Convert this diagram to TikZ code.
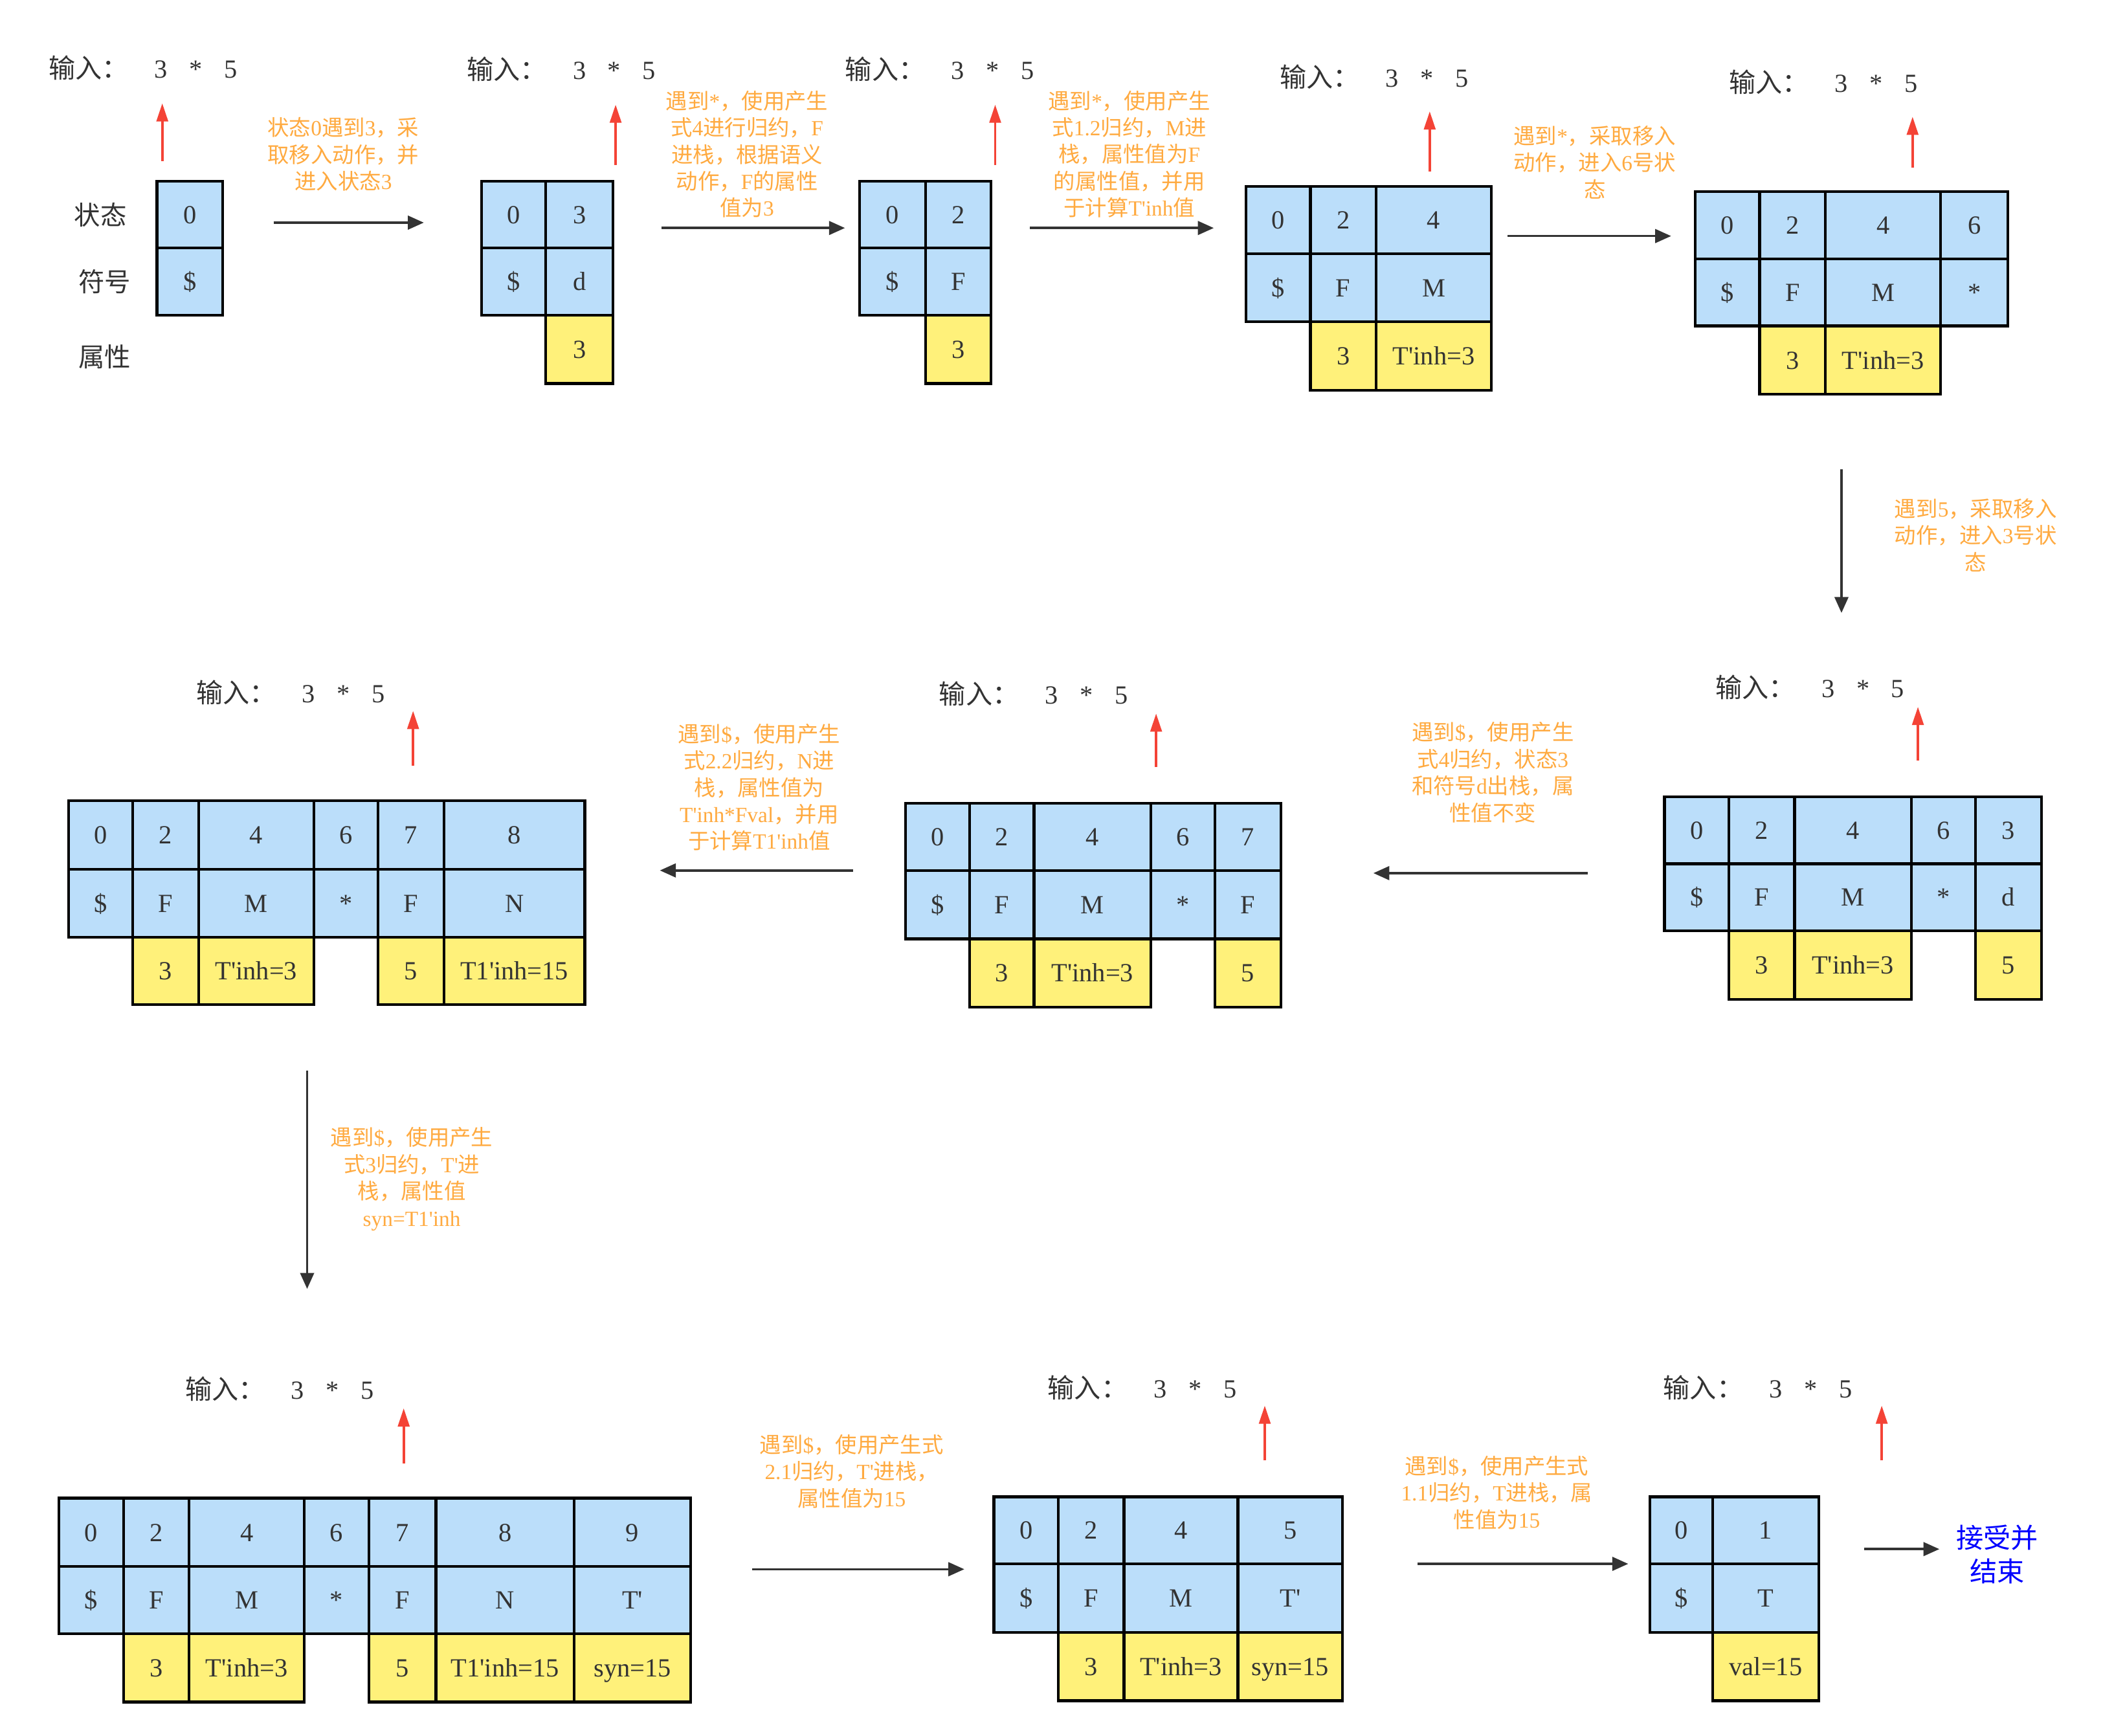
\documentclass[tikz,border=0pt]{standalone}
\usepackage{fontspec}
\setmainfont{Liberation Serif}
\newfontfamily\cjk{Noto Sans CJK SC}
\usetikzlibrary{arrows.meta}
\definecolor{cellblue}{HTML}{BBDEFA}
\definecolor{cellyellow}{HTML}{FFF17A}
\definecolor{orangetxt}{HTML}{FFAA40}
\definecolor{redarrow}{HTML}{F44336}
\definecolor{darktxt}{HTML}{333333}
\definecolor{endblue}{HTML}{0000FF}
\newcommand\zh[1]{{\cjk #1}}
\newcommand\ap{\XeTeXglyph\XeTeXcharglyph"27\relax}
\tikzset{
  cellbox/.style={draw=black, line width=1.2pt, inner sep=0pt, text=darktxt,
    text height=7.8pt, text depth=0pt, font=\fontsize{11.5}{13}\selectfont},
  bluecell/.style={cellbox, fill=cellblue},
  yelcell/.style={cellbox, fill=cellyellow},
  inlab/.style={anchor=base, inner sep=0pt, text=darktxt, font=\fontsize{11.7}{13}\cjk},
  indig/.style={anchor=base, inner sep=0pt, text=darktxt, font=\fontsize{11.5}{13}\selectfont},
  rowlab/.style={inner sep=0pt, text=darktxt, font=\fontsize{11.5}{13}\cjk},
  note/.style={align=center, inner sep=0pt, text=orangetxt, font=\fontsize{9.5}{11.8}\selectfont},
  redarr/.style={draw=redarrow, line width=1.1pt, -{Triangle[length=8pt,width=5pt]}},
  darkarr/.style={draw=darktxt, line width=1pt, -{Triangle[length=7pt,width=6pt]}},
}
\newcommand\cellrow[5]{%
  \foreach \xa/\xb/\t [count=\i] in {#5} {
    \node[#4, minimum width={(\xb-\xa)*0.2072mm}, minimum height={(#3-#2)*0.2072mm}]
      (#1-\i) at ({(\xa+\xb)/2},{(#2+#3)/2}) {\t};
  }}
\newcommand\inputrow[3]{%
  \node[inlab] (#1-l) at (#2+6,#3+7) {输入：};
  \node[indig] (#1-a) at (#2+60,#3+7) {3};
  \node[indig] (#1-s) at (#2+86,#3+7) {*};
  \node[indig] (#1-b) at (#2+112,#3+7) {5};}
\newcommand\redptr[4]{%
  \coordinate (#1-rb) at (#2,#3);
  \coordinate (#1-rt) at (#2,#4);
  \draw[redarr] (#1-rb) -- (#1-rt);}
\newcommand\darrow[5]{%
  \coordinate (#1-s) at (#2,#3);
  \coordinate (#1-e) at (#4,#5);
  \draw[darkarr] (#1-s) -- (#1-e);}
\begin{document}
\begin{tikzpicture}[x=0.2072mm,y=-0.2072mm]
\useasboundingbox[fill=white] (0,0) rectangle (1568,1294);

% ---------- Panel 1
\inputrow{p1}{60}{51}
\redptr{p1}{121}{120}{77}
\node[rowlab] (lab-state) at (75,160) {状态};
\node[rowlab] (lab-sym) at (78,210) {符号};
\node[rowlab] (lab-attr) at (78,266) {属性};
\cellrow{p1r1}{135}{185}{bluecell}{117/166/0}
\cellrow{p1r2}{185}{235}{bluecell}{117/166/\$}
\darrow{a1}{204}{166}{316}{166}
\node[note] (n1) at (256,115) {\zh{状态}0\zh{遇到}3\zh{，采}\\\zh{取移入动作，并}\\\zh{进入状态}3};

% ---------- Panel 2
\inputrow{p2}{372}{52}
\redptr{p2}{459}{123}{78}
\cellrow{p2r1}{135}{185}{bluecell}{359/407/0,407/457/3}
\cellrow{p2r2}{185}{235}{bluecell}{359/407/\$,407/457/d}
\cellrow{p2r3}{235}{286}{yelcell}{407/457/3}
\darrow{a2}{493}{170}{630}{170}
\node[note] (n2) at (557,115) {\zh{遇到}*\zh{，使用产生}\\\zh{式}4\zh{进行归约，}F\\\zh{进栈，根据语义}\\\zh{动作，}F\zh{的属性}\\\zh{值为}3};

% ---------- Panel 3
\inputrow{p3}{654}{52}
\redptr{p3}{742}{123}{78}
\cellrow{p3r1}{135}{185}{bluecell}{641/690/0,690/739/2}
\cellrow{p3r2}{185}{235}{bluecell}{641/690/\$,690/739/F}
\cellrow{p3r3}{235}{286}{yelcell}{690/739/3}
\darrow{a3}{768}{170}{905}{170}
\node[note] (n3) at (842,115) {\zh{遇到}*\zh{，使用产生}\\\zh{式}1.2\zh{归约，}M\zh{进}\\\zh{栈，属性值为}F\\\zh{的属性值，并用}\\\zh{于计算}T\ap inh\zh{值}};

% ---------- Panel 4
\inputrow{p4}{978}{58}
\redptr{p4}{1066}{128}{83}
\cellrow{p4r1}{139}{189}{bluecell}{929/977/0,977/1026/2,1026/1112/4}
\cellrow{p4r2}{189}{240}{bluecell}{929/977/\$,977/1026/F,1026/1112/M}
\cellrow{p4r3}{240}{291}{yelcell}{977/1026/3,1026/1112/T\ap inh=3}
\darrow{a4}{1124}{176}{1246}{176}
\node[note] (n4) at (1189,121) {\zh{遇到}*\zh{，采取移入}\\\zh{动作，进入}6\zh{号状}\\\zh{态}};

% ---------- Panel 5
\inputrow{p5}{1313}{62}
\redptr{p5}{1426}{125}{87}
\cellrow{p5r1}{143}{193}{bluecell}{1264/1312/0,1312/1361/2,1361/1447/4,1447/1497/6}
\cellrow{p5r2}{193}{243}{bluecell}{1264/1312/\$,1312/1361/F,1361/1447/M,1447/1497/*}
\cellrow{p5r3}{243}{294}{yelcell}{1312/1361/3,1361/1447/T\ap inh=3}
\darrow{a5}{1373}{350}{1373}{457}
\node[note] (n5) at (1473,399) {\zh{遇到}5\zh{，采取移入}\\\zh{动作，进入}3\zh{号状}\\\zh{态}};

% ---------- Panel 6
\inputrow{p6}{1303}{513}
\redptr{p6}{1430}{567}{527}
\cellrow{p6r1}{594}{644}{bluecell}{1241/1289/0,1289/1338/2,1338/1425/4,1425/1473/6,1473/1522/3}
\cellrow{p6r2}{644}{694}{bluecell}{1241/1289/\$,1289/1338/F,1338/1425/M,1425/1473/*,1473/1522/d}
\cellrow{p6r3}{694}{745}{yelcell}{1289/1338/3,1338/1425/T\ap inh=3,1473/1522/5}
\darrow{a6}{1184}{651}{1024}{651}
\node[note] (n6) at (1113,576) {\zh{遇到}\$\zh{，使用产生}\\\zh{式}4\zh{归约，状态}3\\\zh{和符号}d\zh{出栈，属}\\\zh{性值不变}};

% ---------- Panel 7
\inputrow{p7}{724}{518}
\redptr{p7}{862}{572}{532}
\cellrow{p7r1}{599}{649}{bluecell}{675/723/0,723/771/2,771/858/4,858/906/6,906/955/7}
\cellrow{p7r2}{649}{700}{bluecell}{675/723/\$,723/771/F,771/858/M,858/906/*,906/955/F}
\cellrow{p7r3}{700}{751}{yelcell}{723/771/3,771/858/T\ap inh=3,906/955/5}
\darrow{a7}{636}{649}{492}{649}
\node[note] (n7) at (566,587) {\zh{遇到}\$\zh{，使用产生}\\\zh{式}2.2\zh{归约，}N\zh{进}\\\zh{栈，属性值为}\\T\ap inh*Fval\zh{，并用}\\\zh{于计算}T1\ap inh\zh{值}};

% ---------- Panel 8
\inputrow{p8}{170}{517}
\redptr{p8}{308}{571}{530}
\cellrow{p8r1}{597}{648}{bluecell}{51/99/0,99/148/2,148/234/4,234/282/6,282/331/7,331/436/8}
\cellrow{p8r2}{648}{699}{bluecell}{51/99/\$,99/148/F,148/234/M,234/282/*,282/331/F,331/436/N}
\cellrow{p8r3}{699}{749}{yelcell}{99/148/3,148/234/T\ap inh=3,282/331/5,331/436/T1\ap inh=15}
\darrow{a8}{229}{798}{229}{961}
\node[note] (n8) at (307,879) {\zh{遇到}\$\zh{，使用产生}\\\zh{式}3\zh{归约，}T\ap\zh{进}\\\zh{栈，属性值}\\syn=T1\ap inh};

% ---------- Panel 9
\inputrow{p9}{162}{1036}
\redptr{p9}{301}{1091}{1050}
\cellrow{p9r1}{1117}{1168}{bluecell}{44/92/0,92/141/2,141/227/4,227/275/6,275/325/7,325/428/8,428/515/9}
\cellrow{p9r2}{1168}{1218}{bluecell}{44/92/\$,92/141/F,141/227/M,227/275/*,275/325/F,325/428/N,428/515/T\ap}
\cellrow{p9r3}{1218}{1269}{yelcell}{92/141/3,141/227/T\ap inh=3,275/325/5,325/428/T1\ap inh=15,428/515/syn=15}
\darrow{a9}{561}{1170}{719}{1170}
\node[note] (n9) at (635,1097) {\zh{遇到}\$\zh{，使用产生式}\\2.1\zh{归约，}T\ap\zh{进栈，}\\\zh{属性值为}15};

% ---------- Panel 10
\inputrow{p10}{805}{1035}
\redptr{p10}{943}{1089}{1048}
\cellrow{p10r1}{1116}{1166}{bluecell}{741/789/0,789/838/2,838/923/4,923/1001/5}
\cellrow{p10r2}{1166}{1217}{bluecell}{741/789/\$,789/838/F,838/923/M,923/1001/T\ap}
\cellrow{p10r3}{1217}{1268}{yelcell}{789/838/3,838/923/T\ap inh=3,923/1001/syn=15}
\darrow{a10}{1057}{1166}{1214}{1166}
\node[note] (n10) at (1116,1113) {\zh{遇到}\$\zh{，使用产生式}\\1.1\zh{归约，}T\zh{进栈，属}\\\zh{性值为}15};

% ---------- Panel 11
\inputrow{p11}{1264}{1035}
\redptr{p11}{1403}{1089}{1048}
\cellrow{p11r1}{1116}{1166}{bluecell}{1230/1277/0,1277/1356/1}
\cellrow{p11r2}{1166}{1217}{bluecell}{1230/1277/\$,1277/1356/T}
\cellrow{p11r3}{1217}{1268}{yelcell}{1277/1356/val=15}
\darrow{a11}{1390}{1155}{1446}{1155}
\node[align=center, inner sep=0pt, text=endblue, font=\fontsize{12}{14.7}\cjk] (done) at (1489,1159) {接受并\\结束};
\end{tikzpicture}
\end{document}
